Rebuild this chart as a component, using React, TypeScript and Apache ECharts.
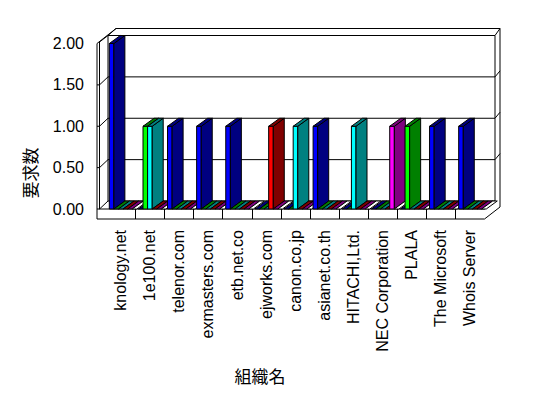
import React, { useEffect, useRef } from "react";
import * as echarts from "echarts";

const categories = [
  "knology.net",
  "1e100.net",
  "telenor.com",
  "exmasters.com",
  "etb.net.co",
  "ejworks.com",
  "canon.co.jp",
  "asianet.co.th",
  "HITACHI,Ltd.",
  "NEC Corporation",
  "PLALA",
  "The Microsoft",
  "Whois Server",
];

const seriesBlue = [2, 0, 1, 1, 1, 0, 0, 1, 0, 0, 0, 1, 1];
const seriesGreen = [0, 1, 0, 0, 0, 0, 0, 0, 0, 0, 1, 0, 0];
const seriesTeal = [0, 1, 0, 0, 0, 0, 1, 0, 1, 0, 0, 0, 0];
const seriesRed = [0, 0, 0, 0, 0, 1, 0, 0, 0, 0, 0, 0, 0];
const seriesPurple = [0, 0, 0, 0, 0, 0, 0, 0, 0, 1, 0, 0, 0];
const seriesWhite = [0, 0, 0, 0, 0, 0, 0, 0, 0, 0, 0, 0, 0];

const yTicks = [0, 0.5, 1, 1.5, 2];

const allSeries = [seriesBlue, seriesGreen, seriesTeal, seriesRed, seriesPurple, seriesWhite];
const frontColors = ["#0000FF", "#00FF00", "#00FFFF", "#FF0000", "#FF00FF", "#FFFFFF"];
const darkColors = ["#000080", "#008000", "#008080", "#800000", "#800080", "#FFFFFF"];

const FONT = "'Liberation Sans', 'Noto Sans CJK JP', sans-serif";

export default function App() {
  const ref = useRef<HTMLDivElement>(null);

  useEffect(() => {
    if (!ref.current) return;
    const chart = echarts.init(ref.current, null, { renderer: "svg" });

    const barData: number[][] = [];
    categories.forEach((_, c) => {
      allSeries.forEach((arr, s) => {
        barData.push([c, arr[c], s]);
      });
    });

    const stroke = { stroke: "#000", lineWidth: 1 };

    const option: any = {
      animation: false,
      backgroundColor: "#fff",
      grid: { left: 106, right: 63.5, top: 43.5, bottom: 189, containLabel: false },
      xAxis: {
        type: "category",
        data: categories,
        axisLine: { show: false },
        axisTick: { show: false },
        axisLabel: {
          rotate: 90,
          margin: 21,
          color: "#000",
          fontSize: 16,
          fontFamily: FONT,
          interval: 0,
        },
      },
      yAxis: {
        type: "value",
        min: 0,
        max: 2,
        interval: 0.5,
        axisLine: { show: false },
        axisTick: { show: false },
        splitLine: { show: false },
        axisLabel: {
          margin: 22,
          color: "#000",
          fontSize: 16,
          fontFamily: FONT,
          formatter: (v: number) => v.toFixed(2),
        },
      },
      graphic: [
        {
          type: "text",
          x: 29,
          y: 173,
          rotation: Math.PI / 2,
          style: {
            text: "要求数",
            fill: "#000",
            font: `17px 'Noto Sans CJK JP', sans-serif`,
            align: "center",
            verticalAlign: "middle",
          },
        },
        {
          type: "text",
          x: 260,
          y: 375,
          style: {
            text: "組織名",
            fill: "#000",
            font: `17px 'Noto Sans CJK JP', sans-serif`,
            align: "center",
            verticalAlign: "middle",
          },
        },
      ],
      series: [
        {
          type: "custom",
          z: 1,
          silent: true,
          clip: false,
          data: [[0, 0]],
          encode: { x: 0, y: 1 },
          renderItem: (params: any, api: any) => {
            const c0 = api.coord([0, 0]);
            const bw = api.size([1, 0])[0];
            const x0 = c0[0] - bw / 2;
            const x1 = x0 + categories.length * bw;
            const yf = (v: number) => api.coord([0, v])[1];
            const yb = (v: number) => yf(v) - 8;
            const y0 = yf(0);
            const ytop = yf(2);
            const yF = y0 + 10;
            const L = x0 - 9;
            const Li = x0 - 6.5;
            const Bx0 = x0 + 2;
            const Bx1 = x1 + 10.5;
            const Ox = x1 + 15.5;
            const oTop = yb(2) - 7;
            const children: any[] = [];
            children.push({
              type: "polygon",
              shape: {
                points: [
                  [L, yF],
                  [L, ytop],
                  [Bx0 + 8, oTop],
                  [Ox, oTop],
                  [Ox, yb(0) + 6],
                  [x1, yF],
                ],
              },
              style: { fill: "#fff", ...stroke },
            });
            children.push({
              type: "polygon",
              shape: {
                points: [
                  [Bx0, yb(2)],
                  [Bx1, yb(2)],
                  [Bx1, yb(0)],
                  [Bx0, yb(0)],
                ],
              },
              style: { fill: "#fff", ...stroke },
            });
            children.push({
              type: "line",
              shape: { x1: Bx0, y1: yb(2), x2: Bx0 + 8, y2: oTop },
              style: { ...stroke },
            });
            children.push({
              type: "line",
              shape: { x1: Bx1, y1: yb(2), x2: Ox, y2: oTop },
              style: { ...stroke },
            });
            children.push({
              type: "polyline",
              shape: {
                points: [
                  [Bx0, yb(2)],
                  [Li, ytop - 1.5],
                  [Li, y0],
                  [Bx0, yb(0)],
                ],
              },
              style: { fill: "none", ...stroke },
            });
            children.push({
              type: "polyline",
              shape: {
                points: [
                  [L, y0],
                  [x1, y0],
                  [Bx1, yb(0)],
                ],
              },
              style: { fill: "none", ...stroke },
            });
            yTicks
              .filter((v) => v > 0 && v < 2)
              .forEach((v) => {
                children.push({
                  type: "polyline",
                  shape: {
                    points: [
                      [L, yf(v)],
                      [Li, yf(v)],
                      [Bx0, yb(v)],
                      [Bx1, yb(v)],
                      [Ox, yb(v) - 6],
                    ],
                  },
                  style: { fill: "none", ...stroke },
                });
              });
            for (let k = 1; k < categories.length; k++) {
              const xx = Math.round(x0 + k * bw) + 0.5;
              children.push({
                type: "line",
                shape: { x1: xx, y1: y0, x2: xx, y2: yF },
                style: { ...stroke },
              });
            }
            return { type: "group", children };
          },
        },
        {
          type: "custom",
          z: 2,
          clip: false,
          data: barData,
          encode: { x: 0, y: 1 },
          renderItem: (params: any, api: any) => {
            const cat = api.value(0);
            const v = api.value(1);
            const s = api.value(2);
            const top = api.coord([cat, v]);
            const yb = api.coord([cat, 0])[1];
            const bw = api.size([1, 0])[0];
            const xl = top[0] - bw / 2 + bw * (0.113 + 0.158 * s);
            const xr = xl + bw * 0.158;
            const yt = top[1];
            const dx = 11;
            const dy = -8;
            const children: any[] = [];
            if (yb - yt > 0.5) {
              children.push({
                type: "polygon",
                shape: { points: [[xl, yt], [xr, yt], [xr, yb], [xl, yb]] },
                style: { fill: frontColors[s], stroke: "#000", lineWidth: 1 },
              });
              children.push({
                type: "polygon",
                shape: {
                  points: [
                    [xr, yt],
                    [xr + dx, yt + dy],
                    [xr + dx, yb + dy],
                    [xr, yb],
                  ],
                },
                style: { fill: darkColors[s], stroke: "#000", lineWidth: 1 },
              });
            }
            children.push({
              type: "polygon",
              shape: {
                points: [
                  [xl, yt],
                  [xr, yt],
                  [xr + dx, yt + dy],
                  [xl + dx, yt + dy],
                ],
              },
              style: { fill: darkColors[s], stroke: "#000", lineWidth: 1 },
            });
            return { type: "group", children };
          },
        },
      ],
    };

    chart.setOption(option);
    return () => chart.dispose();
  }, []);

  return (
    <div
      ref={ref}
      style={{ position: "fixed", left: 0, top: 0, width: 548, height: 398, background: "#fff" }}
    />
  );
}
